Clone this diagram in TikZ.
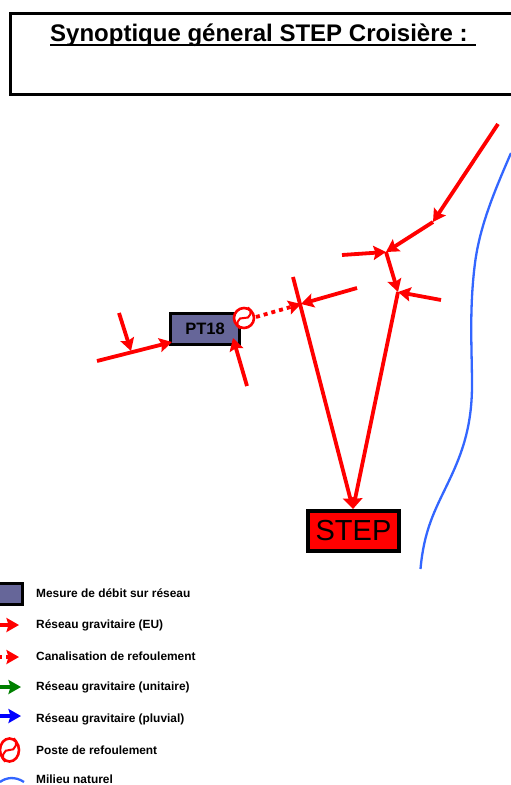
\documentclass[tikz,border=0pt]{standalone}
\usepackage{fontspec}
\setmainfont{Liberation Sans}
\usetikzlibrary{arrows.meta,shapes.geometric}
\definecolor{boxviolet}{HTML}{666699}
\definecolor{river}{HTML}{3366FF}
\definecolor{netgreen}{HTML}{008000}
\tikzset{
  pipe/.style={red,line width=3.8pt,-{Stealth[length=12.5pt,width=14pt,inset=2pt]}},
  pipegreen/.style={pipe,netgreen},
  pipeblue/.style={pipe,blue},
  refoul/.style={pipe,dash pattern=on 4pt off 4pt},
  framebox/.style={draw=black,line width=3.5pt,inner sep=0pt},
  legendtext/.style={anchor=west,inner sep=0pt,font=\bfseries\fontsize{11.9pt}{13pt}\selectfont},
  pumpring/.style={circle,draw=red,line width=2.6pt,fill=white,minimum size=20pt,inner sep=0pt},
  pumpoval/.style={ellipse,draw=red,line width=2.6pt,fill=white,minimum width=19pt,minimum height=23pt,inner sep=0pt},
  pumpcurve/.style={red,line width=2pt},
  waterline/.style={river,line width=2.3pt}
}
\begin{document}
\begin{tikzpicture}[x=1pt,y=-1pt]
\useasboundingbox (0,0) rectangle (511,785);
% title
\draw[black,line width=3pt] (530,13.5) -- (10.5,13.5) -- (10.5,94.5) -- (530,94.5);
\node[anchor=base west,inner sep=0pt,font=\bfseries\fontsize{24pt}{28pt}\selectfont] (title) at (50,41) {Synoptique géneral STEP Croisière :};
\draw[black,line width=2.6pt] (title.base west) ++(0,4) -- ++(426,0);
% river
\draw[waterline] (420.5,569) .. controls (424,530) and (435,510) .. (447,485) .. controls (460,458) and (472,430) .. (472,385) .. controls (472,350) and (469,310) .. (475,263) .. controls (480,225) and (495,190) .. (511,153);
% nodes
\node[framebox,fill=boxviolet,minimum width=69pt,minimum height=31pt,font=\bfseries\fontsize{16.5pt}{18pt}\selectfont] (pt) at (205,329) {PT18};
\node[framebox,fill=red,minimum width=91pt,minimum height=40pt,font=\fontsize{29pt}{34pt}\selectfont] (step) at (353.5,531) {STEP};
\node[pumpring] (pump) at (244,318) {};
\draw[pumpcurve] (pump.70) .. controls +(5.9,2.1) and +(5.9,2.1) .. (pump.center) .. controls +(-5.9,-2.1) and +(-5.9,-2.1) .. (pump.250);
% junctions and free ends
\coordinate (a1) at (498,124);
\coordinate (j1) at (433,222);
\coordinate (j2) at (386,252);
\coordinate (a2) at (342,255);
\coordinate (j3) at (398,292);
\coordinate (a3) at (441,300);
\coordinate (j4) at (301,304);
\coordinate (a4) at (293,277);
\coordinate (a5) at (357,288);
\coordinate (a6) at (97,361);
\coordinate (j5) at (131,351);
\coordinate (a7) at (119,313);
\coordinate (a8) at (247,386);
\coordinate (pin) at (172,342);
\coordinate (kin) at (233,338);
\coordinate (stepin) at (353,509);
% connectors
\draw[pipe] (a1) -- (j1);
\draw[pipe] (j1) -- (j2);
\draw[pipe] (a2) -- (j2);
\draw[pipe] (j2) -- (j3);
\draw[pipe] (a3) -- (j3);
\draw[pipe] (j3) -- (stepin);
\draw[pipe] (a4) -- (stepin);
\draw[pipe] (a5) -- (j4);
\draw[refoul] (pump) ++(12,-1) -- (j4);
\draw[pipe] (a6) -- (pin);
\draw[pipe] (a7) -- (j5);
\draw[pipe] (a8) -- (kin);
% legend
\node[framebox,fill=boxviolet,minimum width=24pt,minimum height=21pt] (l1) at (10.5,594) {};
\node[legendtext] (t1) at (36,593) {Mesure de débit sur réseau};
\node[legendtext] (t2) at (36,625) {Réseau gravitaire (EU)};
\node[legendtext] (t3) at (36,656) {Canalisation de refoulement};
\node[legendtext] (t4) at (36,687) {Réseau gravitaire (unitaire)};
\node[legendtext] (t5) at (36,719) {Réseau gravitaire (pluvial)};
\node[legendtext] (t6) at (36,750) {Poste de refoulement};
\node[legendtext] (t7) at (36,779.4) {Milieu naturel};
\coordinate (l2a) at (-2,625); \coordinate (l2b) at (19,625);
\coordinate (l3a) at (-2,657); \coordinate (l3b) at (19,657);
\coordinate (l4a) at (-2,687); \coordinate (l4b) at (21,687);
\coordinate (l5a) at (-2,716); \coordinate (l5b) at (21,716);
\draw[pipe] (l2a) -- (l2b);
\draw[refoul] (l3a) -- (l3b);
\draw[pipegreen] (l4a) -- (l4b);
\draw[pipeblue] (l5a) -- (l5b);
\node[pumpoval] (l6) at (9.5,750) {};
\draw[pumpcurve] (l6.70) .. controls +(5.5,2) and +(5.5,2) .. (l6.center) .. controls +(-5.5,-2) and +(-5.5,-2) .. (l6.250);
\coordinate (l7a) at (0,782); \coordinate (l7b) at (24,782);
\draw[waterline] (l7a) .. controls (6,777.5) and (15,776) .. (l7b);
\end{tikzpicture}
\end{document}
